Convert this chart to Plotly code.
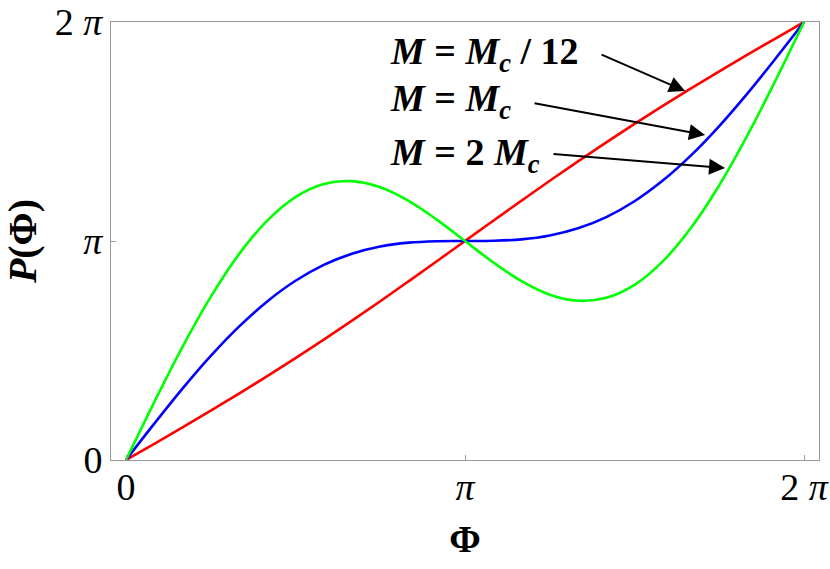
import plotly.graph_objects as go

# phi sampled at k*pi/12, k = 0..24
phi = [0.0, 0.2618, 0.5236, 0.7854, 1.0472, 1.3090, 1.5708, 1.8326, 2.0944,
       2.3562, 2.6180, 2.8798, 3.1416, 3.4034, 3.6652, 3.9270, 4.1888, 4.4506,
       4.7124, 4.9742, 5.2360, 5.4978, 5.7596, 6.0214, 6.2832]

# M = Mc/12 (red)
p_red = [0.0, 0.233, 0.469, 0.708, 0.952, 1.203, 1.461, 1.726, 1.999, 2.278,
         2.563, 2.851, 3.142, 3.432, 3.720, 4.005, 4.284, 4.557, 4.822, 5.080,
         5.331, 5.576, 5.815, 6.050, 6.283]
# M = Mc (blue)
p_blue = [0.0, 0.521, 1.024, 1.493, 1.913, 2.275, 2.571, 2.799, 2.960, 3.063,
          3.118, 3.139, 3.142, 3.145, 3.165, 3.220, 3.323, 3.485, 3.712, 4.008,
          4.370, 4.791, 5.260, 5.763, 6.283]
# M = 2 Mc (green)
p_green = [0.0, 0.831, 1.624, 2.341, 2.953, 3.434, 3.771, 3.958, 4.000, 3.912,
           3.718, 3.449, 3.142, 2.834, 2.565, 2.371, 2.284, 2.326, 2.512, 2.849,
           3.331, 3.942, 4.660, 5.452, 6.283]

tick_vals = [0, 3.14159265, 6.28318531]
tick_text = ["0", "<i>π</i>", "2 <i>π</i>"]

labels = ["<b><i>M</i> = <i>M</i><sub><i>c</i></sub> / 12</b>",
          "<b><i>M</i> = <i>M</i><sub><i>c</i></sub></b>",
          "<b><i>M</i> = 2 <i>M</i><sub><i>c</i></sub></b>"]

serif = "Liberation Serif, Times New Roman, serif"

fig = go.Figure()
for ys, col in [(p_red, "#ff0000"), (p_blue, "#0000ff"), (p_green, "#00ff00")]:
    fig.add_trace(go.Scatter(x=phi, y=ys, mode="lines",
                             line=dict(color=col, width=2.6, shape="spline"),
                             showlegend=False))

# label text
for txt, ty in zip(labels, [5.82, 5.15, 4.37]):
    fig.add_annotation(x=2.43, y=ty, text=txt, showarrow=False,
                       xanchor="left", yanchor="middle",
                       font=dict(family=serif, size=38, color="black"))

# arrows (head on curve, tail offset in px)
for hx, hy, ax, ay in [(5.181, 5.293, -85, -37),
                       (5.366, 4.662, -172, -32),
                       (5.551, 4.189, -173, -14)]:
    fig.add_annotation(x=hx, y=hy, ax=ax, ay=ay, text="", showarrow=True,
                       arrowhead=2, arrowsize=1.6, arrowwidth=2,
                       arrowcolor="black")

axis_common = dict(showgrid=False, zeroline=False, showline=True,
                   linecolor="#999999", linewidth=1, mirror=True,
                   ticks="inside", ticklen=5, tickcolor="#999999",
                   tickvals=tick_vals, ticktext=tick_text, automargin=False,
                   tickfont=dict(family=serif, size=38, color="black"))

fig.update_xaxes(range=[-0.139, 6.422], ticklabelstandoff=-7,
                 title=dict(text="<b>Φ</b>", standoff=18,
                            font=dict(family=serif, size=38, color="black")),
                 **axis_common)
fig.update_yaxes(range=[0, 6.2832],
                 title=dict(text="<b><i>P</i>(Φ)</b>", standoff=14,
                            font=dict(family=serif, size=40, color="black")),
                 **axis_common)

fig.update_layout(width=830, height=569,
                  margin=dict(l=111, r=11, t=22, b=109),
                  plot_bgcolor="white", paper_bgcolor="white")

fig.write_html("out.html", config={"displayModeBar": False},
               post_script="document.body.style.margin='0';")
